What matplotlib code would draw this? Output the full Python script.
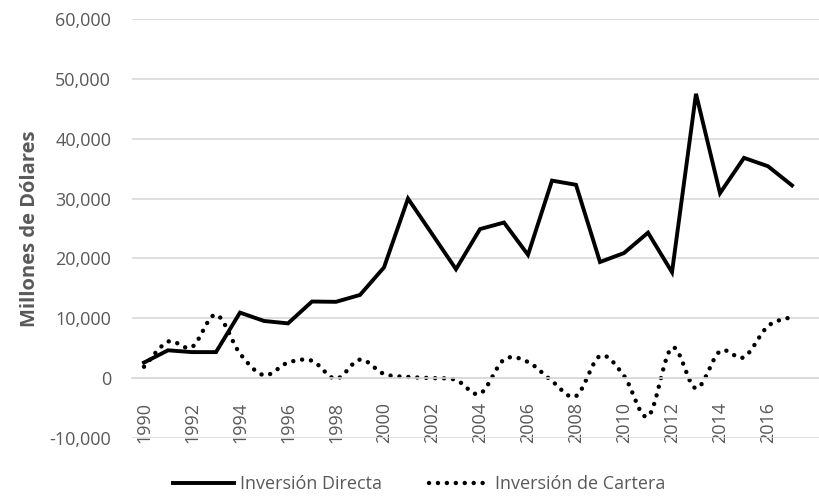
import numpy as np
import matplotlib.pyplot as plt

years = list(range(1990, 2018))
directa = [2600, 4650, 4350, 4350, 10950, 9550, 9150, 12800, 12750, 13900,
           18500, 30000, 24100, 18200, 24900, 26000, 20600, 33000, 32300, 19400,
           20900, 24300, 17700, 47500, 30900, 36800, 35400, 32200]
cartera = [1900, 6100, 5200, 10600, 4100, 500, 2600, 2900, -100, 3100,
           700, 200, 0, -300, -2600, 3100, 2700, -500, -3000, 3700,
           400, -6400, 5100, -1700, 4500, 3500, 8700, 10200]
legend_labels = ['Inversión Directa', 'Inversión de Cartera']

gray = '#595959'
plt.rcParams['font.family'] = ['Open Sans', 'DejaVu Sans']


def smooth(x, y, n=20):
    # catmull-rom style smoothing like excel's "smoothed line"
    x = np.asarray(x, float)
    y = np.asarray(y, float)
    px = np.concatenate([[x[0]], x, [x[-1]]])
    py = np.concatenate([[y[0]], y, [y[-1]]])
    xs, ys = [], []
    t = np.linspace(0, 1, n)
    for i in range(1, len(px) - 2):
        p0 = np.array([px[i], py[i]])
        p3 = np.array([px[i + 1], py[i + 1]])
        p1 = p0 + (p3 - np.array([px[i - 1], py[i - 1]])) / 6
        p2 = p3 - (np.array([px[i + 2], py[i + 2]]) - p0) / 6
        b = ((1 - t) ** 3)[:, None] * p0 + (3 * (1 - t) ** 2 * t)[:, None] * p1 \
            + (3 * (1 - t) * t ** 2)[:, None] * p2 + (t ** 3)[:, None] * p3
        xs.extend(b[:, 0])
        ys.extend(b[:, 1])
    return xs, ys


fig = plt.figure(figsize=(8.19, 4.97), dpi=100)
ax = fig.add_axes([132 / 819, 59 / 497, 687 / 819, 419 / 497])

ax.plot(years, directa, color='black', lw=2.8, solid_joinstyle='miter',
        label=legend_labels[0])
sx, sy = smooth(years, cartera)
ax.plot(sx, sy, color='black', lw=3.2, linestyle=(0, (0.01, 2.0)),
        dash_capstyle='round', label=legend_labels[1])

ax.set_xlim(1989.5, 2018.125)
ax.set_ylim(-10000, 60000)
ax.set_yticks(range(-10000, 60001, 10000))
ax.set_yticklabels([f'{v:,}' for v in range(-10000, 60001, 10000)])
ax.grid(axis='y', color='#d9d9d9', lw=1.2)
ax.set_axisbelow(True)

ax.spines['bottom'].set_position(('data', 0))
ax.spines['bottom'].set_color('#d9d9d9')
ax.spines['bottom'].set_linewidth(1.2)
for s in ['top', 'right', 'left']:
    ax.spines[s].set_visible(False)
ax.set_xticks(years[::2])
ax.set_xticklabels([str(y) for y in years[::2]])
ax.tick_params(axis='both', length=0, colors=gray, labelsize=13)
ax.tick_params(axis='x', pad=17, labelrotation=90)
ax.tick_params(axis='y', pad=15)

ax.set_ylabel('Millones de Dólares', color=gray, fontsize=14.5, fontweight='bold',
              labelpad=7)

fig.legend(loc='lower center', ncol=2, frameon=False, fontsize=13,
           labelcolor=gray, bbox_to_anchor=(0.512, -0.025), handlelength=3.4,
           columnspacing=2.6, handletextpad=0.3)

fig.savefig('out.png', dpi=100)
